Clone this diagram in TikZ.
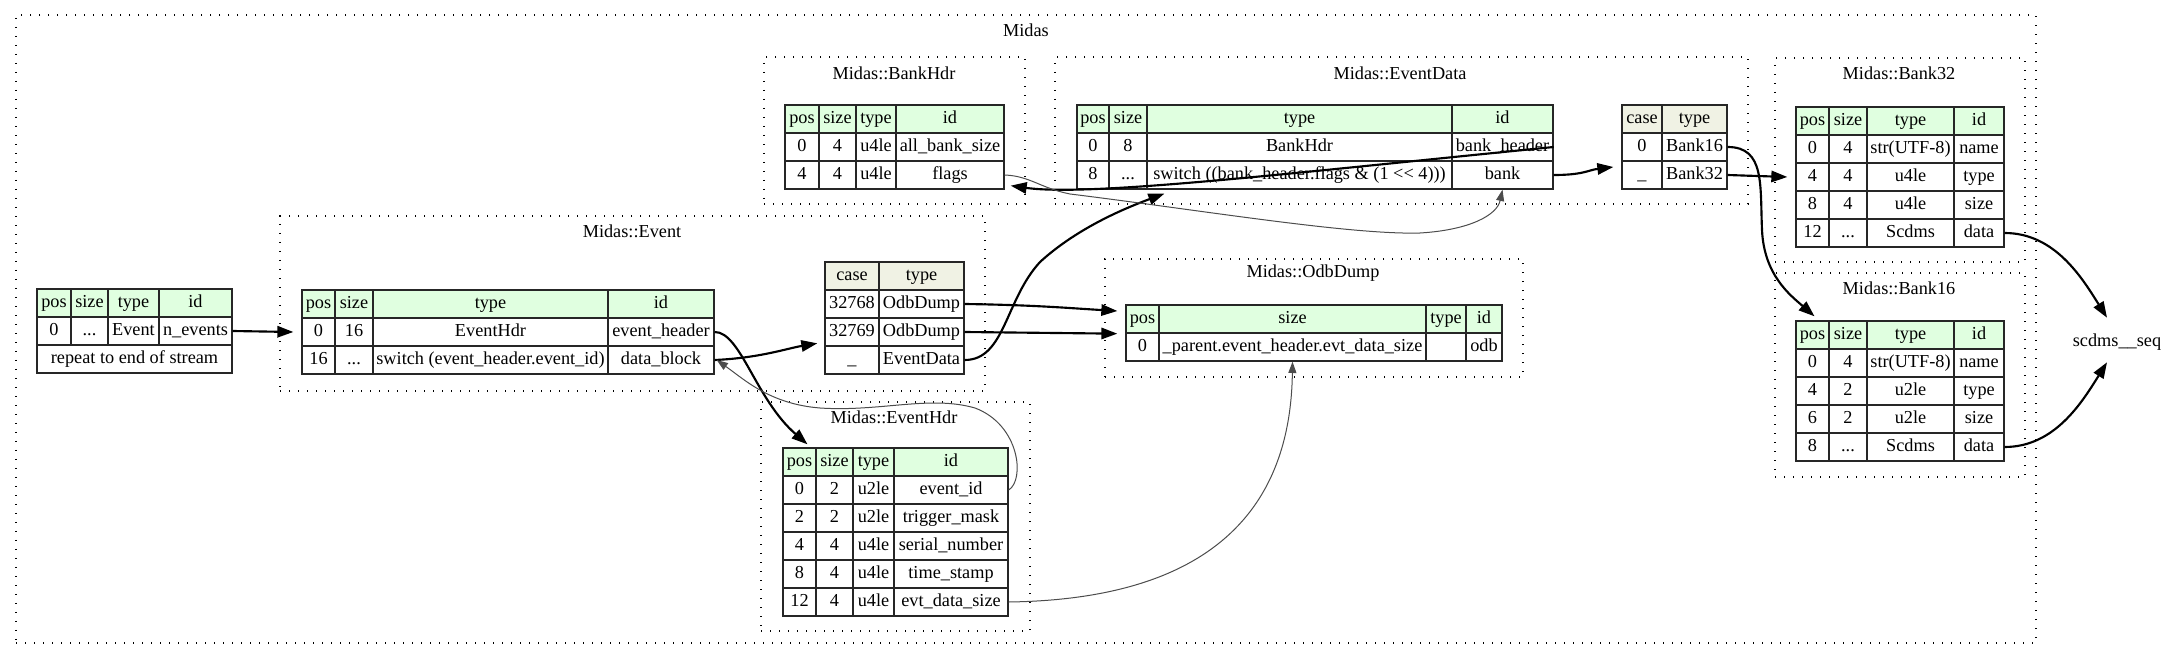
\documentclass[tikz,border=0pt]{standalone}
\usepackage{fontspec}
\newfontfamily\gvfont{Liberation Serif}
\usetikzlibrary{arrows.meta,calc}
\definecolor{hdrgreen}{HTML}{E0FFE0}
\definecolor{hdrcase}{HTML}{F0F2E4}
\tikzset{
 every node/.style={font=\gvfont\fontsize{13.7pt}{16pt}\selectfont},
 cellst/.style={draw=black!85, line width=1pt, inner sep=0pt, anchor=center, text=black},
 clusterst/.style={draw=black, line width=0.9pt, dash pattern=on 0.9pt off 5.85pt, inner sep=0pt},
 titlest/.style={inner sep=0pt},
 edgeB/.style={draw=black, line width=1.6pt, -{Triangle[length=12pt,width=8.5pt]}},
 edgeG/.style={draw=black!70, line width=0.75pt, -{Triangle[length=8.5pt,width=6pt]}},
}
\newcommand{\tdots}{...}
\newcommand{\tcell}[7]{%
 \pgfmathsetmacro\tcw{(#4-#2)*0.75}%
 \pgfmathsetmacro\tch{(#5-#3)*0.75}%
 \node[cellst, fill=#6, minimum width=\tcw pt, minimum height=\tch pt] (#1) at ({(#2+#4)/2},{(#3+#5)/2}) {\strut #7};}
\newcommand{\clbox}[5]{%
 \pgfmathsetmacro\tcw{(#4-#2)*0.75}%
 \pgfmathsetmacro\tch{(#5-#3)*0.75}%
 \node[clusterst, minimum width=\tcw pt, minimum height=\tch pt] (#1) at ({(#2+#4)/2},{(#3+#5)/2}) {};}
\newcommand{\trow}[4]{\foreach \xa/\xb/\nm/\tx in {#4}{\tcell{\nm}{\xa}{#1}{\xb}{#2}{#3}{\tx}}}
\begin{document}
\begin{tikzpicture}[x=0.75pt,y=-0.75pt]
\useasboundingbox (0,0) rectangle (2179,659);
% clusters
\clbox{cl_midas}{16}{15}{2036}{643}
\node[titlest] (t_midas) at (1026,30) {Midas};
\clbox{cl_event}{280}{216}{985}{391}
\node[titlest] (t_event) at (632,231) {Midas::Event};
\clbox{cl_eventhdr}{761}{402}{1030}{631}
\node[titlest] (t_eventhdr) at (894,417) {Midas::EventHdr};
\clbox{cl_bankhdr}{764}{57}{1025}{204}
\node[titlest] (t_bankhdr) at (894,73) {Midas::BankHdr};
\clbox{cl_eventdata}{1055}{57}{1748}{204}
\node[titlest] (t_eventdata) at (1400,73) {Midas::EventData};
\clbox{cl_odb}{1105}{259}{1523}{377}
\node[titlest] (t_odb) at (1313,273) {Midas::OdbDump};
\clbox{cl_b32}{1775}{58}{2025}{262}
\node[titlest] (t_b32) at (1899,73) {Midas::Bank32};
\clbox{cl_b16}{1775}{273}{2025}{477}
\node[titlest] (t_b16) at (1899,288) {Midas::Bank16};
% seq table
\trow{289}{317}{hdrgreen}{37/71/sq_h1/pos, 71/108/sq_h2/size, 108/159/sq_h3/type, 159/232/sq_h4/id}
\trow{317}{345}{white}{37/71/sq_p1/0, 71/108/sq_s1/\tdots, 108/159/sq_t1/Event, 159/232/sq_i1/n\_events}
\tcell{sq_rep}{37}{345}{232}{373}{white}{repeat to end of stream}
% Event
\trow{290}{318}{hdrgreen}{302/335/ev_h1/pos, 335/373/ev_h2/size, 373/608/ev_h3/type, 608/714/ev_h4/id}
\trow{318}{346}{white}{302/335/ev_p1/0, 335/373/ev_s1/16, 373/608/ev_t1/EventHdr, 608/714/ev_i1/event\_header}
\trow{346}{374}{white}{302/335/ev_p2/16, 335/373/ev_s2/\tdots, 373/608/ev_t2/switch (event\_header.event\_id), 608/714/ev_i2/data\_block}
% Event switch
\trow{262}{290}{hdrcase}{825/879/evs_hc/case, 879/964/evs_ht/type}
\trow{290}{318}{white}{825/879/evs_c1/32768, 879/964/evs_t1/OdbDump}
\trow{318}{346}{white}{825/879/evs_c2/32769, 879/964/evs_t2/OdbDump}
\trow{346}{374}{white}{825/879/evs_c3/\_, 879/964/evs_t3/EventData}
% EventHdr
\trow{448}{476}{hdrgreen}{783/816/eh_h1/pos, 816/853/eh_h2/size, 853/894/eh_h3/type, 894/1008/eh_h4/id}
\trow{476}{504}{white}{783/816/eh_p1/0, 816/853/eh_s1/2, 853/894/eh_t1/u2le, 894/1008/eh_i1/event\_id}
\trow{504}{532}{white}{783/816/eh_p2/2, 816/853/eh_s2/2, 853/894/eh_t2/u2le, 894/1008/eh_i2/trigger\_mask}
\trow{532}{560}{white}{783/816/eh_p3/4, 816/853/eh_s3/4, 853/894/eh_t3/u4le, 894/1008/eh_i3/serial\_number}
\trow{560}{588}{white}{783/816/eh_p4/8, 816/853/eh_s4/4, 853/894/eh_t4/u4le, 894/1008/eh_i4/time\_stamp}
\trow{588}{616}{white}{783/816/eh_p5/12, 816/853/eh_s5/4, 853/894/eh_t5/u4le, 894/1008/eh_i5/evt\_data\_size}
% BankHdr
\trow{105}{133}{hdrgreen}{785/819/bh_h1/pos, 819/856/bh_h2/size, 856/896/bh_h3/type, 896/1004/bh_h4/id}
\trow{133}{161}{white}{785/819/bh_p1/0, 819/856/bh_s1/4, 856/896/bh_t1/u4le, 896/1004/bh_i1/all\_bank\_size}
\trow{161}{189}{white}{785/819/bh_p2/4, 819/856/bh_s2/4, 856/896/bh_t2/u4le, 896/1004/bh_i2/flags}
% EventData
\trow{105}{133}{hdrgreen}{1077/1109/ed_h1/pos, 1109/1147/ed_h2/size, 1147/1452/ed_h3/type, 1452/1553/ed_h4/id}
\trow{133}{161}{white}{1077/1109/ed_p1/0, 1109/1147/ed_s1/8, 1147/1452/ed_t1/BankHdr, 1452/1553/ed_i1/bank\_header}
\trow{161}{189}{white}{1077/1109/ed_p2/8, 1109/1147/ed_s2/\tdots, 1147/1452/ed_t2/switch ((bank\_header.flags \& (1 << 4))), 1452/1553/ed_i2/bank}
% EventData switch
\trow{105}{133}{hdrcase}{1622/1662/eds_hc/case, 1662/1727/eds_ht/type}
\trow{133}{161}{white}{1622/1662/eds_c1/0, 1662/1727/eds_t1/Bank16}
\trow{161}{189}{white}{1622/1662/eds_c2/\_, 1662/1727/eds_t2/Bank32}
% OdbDump
\trow{305}{333}{hdrgreen}{1126/1159/od_h1/pos, 1159/1426/od_h2/size, 1426/1466/od_h3/type, 1466/1502/od_h4/id}
\tcell{od_p1}{1126}{333}{1159}{361}{white}{0}
\tcell{od_s1}{1159}{333}{1426}{361}{white}{\_parent.event\_header.evt\_data\_size}
\tcell{od_t1}{1426}{333}{1466}{361}{white}{}
\tcell{od_i1}{1466}{333}{1502}{361}{white}{odb}
% Bank32
\trow{107}{135}{hdrgreen}{1796/1829/b32_h1/pos, 1829/1867/b32_h2/size, 1867/1954/b32_h3/type, 1954/2004/b32_h4/id}
\trow{135}{163}{white}{1796/1829/b32_p1/0, 1829/1867/b32_s1/4, 1867/1954/b32_t1/str(UTF-8), 1954/2004/b32_i1/name}
\trow{163}{191}{white}{1796/1829/b32_p2/4, 1829/1867/b32_s2/4, 1867/1954/b32_t2/u4le, 1954/2004/b32_i2/type}
\trow{191}{219}{white}{1796/1829/b32_p3/8, 1829/1867/b32_s3/4, 1867/1954/b32_t3/u4le, 1954/2004/b32_i3/size}
\trow{219}{247}{white}{1796/1829/b32_p4/12, 1829/1867/b32_s4/\tdots, 1867/1954/b32_t4/Scdms, 1954/2004/b32_i4/data}
% Bank16
\trow{321}{349}{hdrgreen}{1796/1829/b16_h1/pos, 1829/1867/b16_h2/size, 1867/1954/b16_h3/type, 1954/2004/b16_h4/id}
\trow{349}{377}{white}{1796/1829/b16_p1/0, 1829/1867/b16_s1/4, 1867/1954/b16_t1/str(UTF-8), 1954/2004/b16_i1/name}
\trow{377}{405}{white}{1796/1829/b16_p2/4, 1829/1867/b16_s2/2, 1867/1954/b16_t2/u2le, 1954/2004/b16_i2/type}
\trow{405}{433}{white}{1796/1829/b16_p3/6, 1829/1867/b16_s3/2, 1867/1954/b16_t3/u2le, 1954/2004/b16_i3/size}
\trow{433}{461}{white}{1796/1829/b16_p4/8, 1829/1867/b16_s4/\tdots, 1867/1954/b16_t4/Scdms, 1954/2004/b16_i4/data}
% scdms__seq
\node[inner sep=0pt, minimum height=36pt] (scdms) at (2117,342) {scdms\_\_seq};
% black edges
\draw[edgeB] (sq_i1.east) -- ($(ev_p1.west)+(-8,0)$);
\draw[edgeB] (ev_i1.east) .. controls +(26,0) and +(-52,-45) .. ($(eh_h1.north)+(8,-3)$);
\draw[edgeB] (ev_i2.east) .. controls +(45,-2) and +(-30,5) .. ($(evs_c3.north west)+(-7,-2)$);
\draw[edgeB] (evs_t1.east) .. controls +(70,1) and +(-50,-3) .. ($(od_h1.west)+(-8,-8)$);
\draw[edgeB] (evs_t2.east) -- ($(od_h1.south west)+(-8,0)$);
\draw[edgeB] (evs_t3.east) .. controls (1005,360) and (1005,300) .. (1040,262) .. controls (1075,230) and (1120,210) .. ($(ed_t2.south west)+(18,4)$);
\draw[edgeB] (ed_i1.east) .. controls (1300,172) and (1090,197) .. ($(bh_i2.south east)+(6,-4)$);
\draw[edgeB] (ed_i2.east) .. controls +(30,0) and +(-25,3) .. ($(eds_c2.west)+(-8,-8)$);
\draw[edgeB] (eds_t1.east) .. controls (1765,147) and (1760,185) .. (1762,230) .. controls (1764,275) and (1790,295) .. ($(b16_h1.north)+(2,-4)$);
\draw[edgeB] (eds_t2.east) -- ($(b32_p2.west)+(-8,0)$);
\draw[edgeB] (b32_i4.east) .. controls +(50,0) and +(-25,-40) .. ($(scdms.north)+(-10,0)$);
\draw[edgeB] (b16_i4.east) .. controls +(50,0) and +(-25,40) .. ($(scdms.south)+(-10,-4)$);
% gray edges
\draw[edgeG] (eh_i1.east) .. controls (1025,480) and (1020,425) .. (975,408) .. controls (930,395) and (880,412) .. (820,408) .. controls (770,404) and (745,380) .. ($(ev_i2.east)+(2,0)$);
\draw[edgeG] (eh_i5.east) .. controls (1150,600) and (1290,555) .. (od_s1.south);
\draw[edgeG] (bh_i2.east) .. controls (1030,176) and (1040,188) .. (1070,194) .. controls (1200,210) and (1350,235) .. (1420,233) .. controls (1470,230) and (1497,215) .. (ed_i2.south);
\end{tikzpicture}
\end{document}
